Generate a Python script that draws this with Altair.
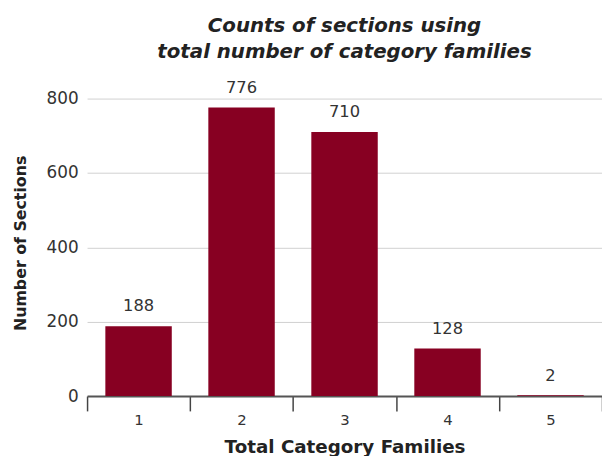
import altair as alt
import pandas as pd

categories = ["1", "2", "3", "4", "5"]
counts = [188, 776, 710, 128, 2]

df = pd.DataFrame({"families": categories, "count": counts})

FONT = "DejaVu Sans"
BAR = "#870022"

base = alt.Chart(df).encode(
    x=alt.X(
        "families:N",
        sort=categories,
        scale=alt.Scale(paddingInner=0, paddingOuter=0),
        axis=alt.Axis(
            title="Total Category Families",
            labelAngle=0,
            labelFontSize=15,
            labelColor="#333333",
            labelPadding=2,
            labelFont=FONT,
            tickBand="extent",
            tickSize=15,
            tickColor="#444444",
            tickWidth=1.5,
            domainColor="#555555",
            domainWidth=2,
            titleFont=FONT,
            titleFontSize=18.5,
            titleFontWeight="bold",
            titleColor="#222222",
            titleY=57,
            titleBaseline="alphabetic",
        ),
    ),
    y=alt.Y(
        "count:Q",
        scale=alt.Scale(domain=[0, 800]),
        axis=alt.Axis(
            title="Number of Sections",
            values=[0, 200, 400, 600, 800],
            labelFontSize=17,
            labelColor="#333333",
            labelFont=FONT,
            labelPadding=9,
            domain=False,
            ticks=False,
            gridColor="#d0d0d0",
            gridWidth=1,
            titleFont=FONT,
            titleFontSize=16,
            titleFontWeight="bold",
            titleColor="#222222",
            titleX=-67,
            titleY=146,
            titleAngle=270,
            titleAlign="center",
            titleBaseline="middle",
        ),
    ),
)

bars = base.mark_bar(color=BAR, width=alt.RelativeBandSize(0.645))
labels = base.mark_text(
    dy=-12, baseline="bottom", fontSize=16.5, font=FONT, color="#333333"
).encode(text="count:Q")

chart = (
    (bars + labels)
    .properties(
        width=521,
        height=301,
        autosize=alt.AutoSizeParams(type="none"),
        padding={"left": 80, "top": 89, "right": 0, "bottom": 59},
        title=alt.TitleParams(
            text=["Counts of sections using", "total number of category families"],
            font=FONT,
            fontSize=20,
            fontStyle="italic",
            fontWeight="bold",
            color="#222222",
            lineHeight=26,
            anchor="middle",
            offset=18,
        ),
    )
    .configure_view(stroke=None)
)

chart.save("out.html", embed_options={"renderer": "svg", "actions": False})
